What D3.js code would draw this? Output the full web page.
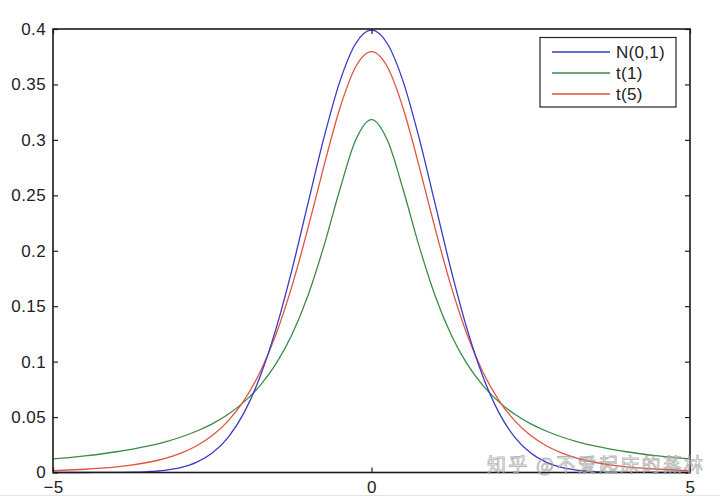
<!DOCTYPE html>
<html><head><meta charset="utf-8">
<script src="https://cdn.jsdelivr.net/npm/d3@7"></script>
<style>body{margin:0;background:#fff;}svg{display:block;font-family:"Liberation Sans",Arial,sans-serif;}</style>
</head><body>
<svg id="c" width="720" height="496"></svg>
<script>
const xs = [-5,-4.75,-4.5,-4.25,-4,-3.75,-3.5,-3.25,-3,-2.75,-2.5,-2.25,-2,-1.75,-1.5,-1.25,-1,-0.75,-0.5,-0.25,0,0.25,0.5,0.75,1,1.25,1.5,1.75,2,2.25,2.5,2.75,3,3.25,3.5,3.75,4,4.25,4.5,4.75,5];
const normal = [0.0000015,0.00001,0.00002,0.00005,0.00013,0.00035,0.00087,0.0020,0.0044,0.0091,0.0175,0.0317,0.0540,0.0863,0.1295,0.1826,0.2420,0.3011,0.3521,0.3867,0.3989,0.3867,0.3521,0.3011,0.2420,0.1826,0.1295,0.0863,0.0540,0.0317,0.0175,0.0091,0.0044,0.0020,0.00087,0.00035,0.00013,0.00005,0.00002,0.00001,0.0000015];
const t1 = [0.0122,0.0135,0.0150,0.0167,0.0187,0.0211,0.0240,0.0275,0.0318,0.0372,0.0439,0.0525,0.0637,0.0784,0.0979,0.1242,0.1592,0.2037,0.2546,0.2996,0.3183,0.2996,0.2546,0.2037,0.1592,0.1242,0.0979,0.0784,0.0637,0.0525,0.0439,0.0372,0.0318,0.0275,0.0240,0.0211,0.0187,0.0167,0.0150,0.0135,0.0122];
const t5 = [0.00176,0.00227,0.00295,0.00387,0.00512,0.00685,0.00924,0.0126,0.0173,0.0239,0.0333,0.0466,0.0651,0.0905,0.1245,0.1679,0.2197,0.2757,0.3279,0.3657,0.3796,0.3657,0.3279,0.2757,0.2197,0.1679,0.1245,0.0905,0.0651,0.0466,0.0333,0.0239,0.0173,0.0126,0.00924,0.00685,0.00512,0.00387,0.00295,0.00227,0.00176];
const seriesNames = ["N(0,1)","t(1)","t(5)"];
const seriesColors = ["#3a3ac8","#3d8a45","#e0533f"];
const yTicks = [0,0.05,0.1,0.15,0.2,0.25,0.3,0.35,0.4];
const yTickLabels = ["0","0.05","0.1","0.15","0.2","0.25","0.3","0.35","0.4"];
const xTicks = [-5,0,5];
const xTickLabels = ["\u22125","0","5"];

const svg = d3.select("#c");
const L=53, R=690, T=29, B=472.5;
const x = d3.scaleLinear().domain([-5,5]).range([L,R]);
const y = d3.scaleLinear().domain([0,0.4]).range([B,T]);

const g = svg.append("g");
const line = d3.line().x(d=>x(d[0])).y(d=>y(d[1])).curve(d3.curveMonotoneX);
const allSeries = [normal,t1,t5];
[1,2,0].forEach(i=>{
  g.append("path").datum(xs.map((v,j)=>[v,allSeries[i][j]]))
   .attr("d",line).attr("fill","none").attr("stroke",seriesColors[i]).attr("stroke-width",1.3);
});

const tickStyle = (fs)=>sel=>{sel.select(".domain").remove();sel.selectAll("line").attr("stroke","#222").attr("stroke-width",1.2);sel.selectAll("text").attr("fill","#222").attr("font-size",fs).attr("letter-spacing",0.4).attr("font-family","'Liberation Sans',Arial,sans-serif");};
svg.append("g").attr("transform",`translate(${L},0)`)
  .call(d3.axisLeft(y).tickValues(yTicks).tickFormat((d,i)=>yTickLabels[i]).tickSizeInner(-5).tickSizeOuter(0).tickPadding(7))
  .call(tickStyle(17));
svg.append("g").attr("transform",`translate(${R},0)`)
  .call(d3.axisRight(y).tickValues(yTicks).tickFormat("").tickSizeInner(-5).tickSizeOuter(0))
  .call(tickStyle(17));
svg.append("g").attr("transform",`translate(0,${B})`)
  .call(d3.axisBottom(x).tickValues(xTicks).tickFormat((d,i)=>xTickLabels[i]).tickSizeInner(-5).tickSizeOuter(0).tickPadding(8))
  .call(tickStyle(17));
svg.append("g").attr("transform",`translate(0,${T})`)
  .call(d3.axisTop(x).tickValues(xTicks).tickFormat("").tickSizeInner(-5).tickSizeOuter(0))
  .call(tickStyle(17));
svg.append("rect").attr("x",L).attr("y",T).attr("width",R-L).attr("height",B-T)
  .attr("fill","none").attr("stroke","#1a1a1a").attr("stroke-width",1.6);

const lg = svg.append("g");
lg.append("rect").attr("x",540).attr("y",37.5).attr("width",136).attr("height",69.5)
  .attr("fill","#fff").attr("stroke","#222").attr("stroke-width",1.2);
seriesNames.forEach((n,i)=>{
  const yy = 52 + i*21;
  lg.append("line").attr("x1",552).attr("x2",610).attr("y1",yy).attr("y2",yy)
    .attr("stroke",seriesColors[i]).attr("stroke-width",1.5);
  lg.append("text").attr("x",616).attr("y",yy+6).text(n)
    .attr("font-size",17).attr("letter-spacing",0.3).attr("fill","#222");
});

svg.append("text").attr("x",487).attr("y",472).text("知乎 @不爱起床的蒸林")
  .attr("font-family","'Noto Sans CJK SC',sans-serif").attr("font-size",19).attr("textLength",216)
  .attr("fill","rgba(255,255,255,0.55)").attr("stroke","rgba(120,120,120,0.55)").attr("stroke-width",0.9);

svg.append("line").attr("x1",0).attr("x2",720).attr("y1",495.5).attr("y2",495.5).attr("stroke","#e4e4e4").attr("stroke-width",1);
</script>
</body></html>
